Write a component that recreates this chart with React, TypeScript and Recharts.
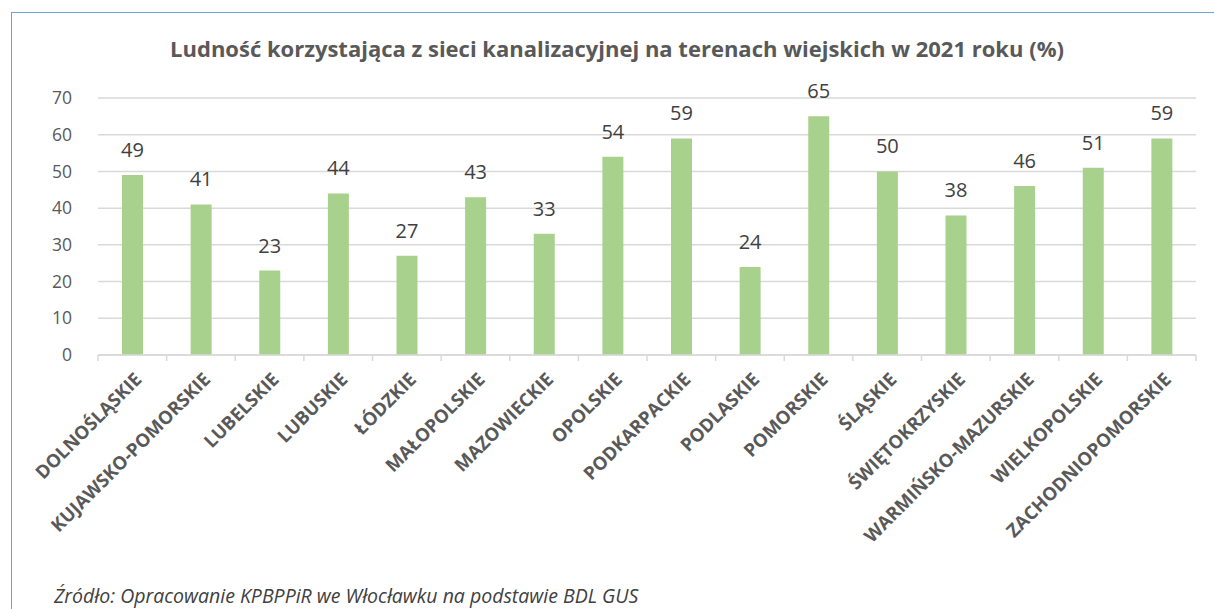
import React from 'react';
import { BarChart, Bar, XAxis, YAxis, CartesianGrid, LabelList } from 'recharts';

const regions = [
  'DOLNOŚLĄSKIE',
  'KUJAWSKO-POMORSKIE',
  'LUBELSKIE',
  'LUBUSKIE',
  'ŁÓDZKIE',
  'MAŁOPOLSKIE',
  'MAZOWIECKIE',
  'OPOLSKIE',
  'PODKARPACKIE',
  'PODLASKIE',
  'POMORSKIE',
  'ŚLĄSKIE',
  'ŚWIĘTOKRZYSKIE',
  'WARMIŃSKO-MAZURSKIE',
  'WIELKOPOLSKIE',
  'ZACHODNIOPOMORSKIE',
];
const values = [49, 41, 23, 44, 27, 43, 33, 54, 59, 24, 65, 50, 38, 46, 51, 59];
const yTicks = [0, 10, 20, 30, 40, 50, 60, 70];

const data = regions.map((name, i) => ({ name, value: values[i] }));

const FONT = '"Open Sans", Lato, sans-serif';
const W = 1214;
const H = 609;
const PLOT_LEFT = 98;
const PLOT_RIGHT = 18;
const PLOT_TOP = 98;
const PLOT_BOTTOM_Y = 355;
const STEP = (W - PLOT_LEFT - PLOT_RIGHT) / regions.length;

const RegionTick = (props: any) => {
  const { x, y, payload, index } = props;
  return (
    <g>
      <line x1={x - STEP / 2} x2={x - STEP / 2} y1={y - 8} y2={y - 2} stroke="#d9d9d9" strokeWidth={1.5} />
      {index === regions.length - 1 && (
        <line x1={x + STEP / 2} x2={x + STEP / 2} y1={y - 8} y2={y - 2} stroke="#d9d9d9" strokeWidth={1.5} />
      )}
      <text
        transform={`translate(${x + 6},${y + 13}) rotate(-45)`}
        textAnchor="end"
        fontSize={18.5}
        fontWeight={700}
        fill="#595959"
        fontFamily={FONT}
        dy="0.35em"
      >
        {payload.value}
      </text>
    </g>
  );
};

export default function App() {
  return (
    <div style={{ position: 'absolute', left: 0, top: 0, width: W, height: H, background: '#fff', overflow: 'hidden' }}>
      <div style={{ position: 'absolute', left: 11, top: 12, width: W - 11, height: 1, background: '#6fa3d8' }} />
      <div style={{ position: 'absolute', left: 11, top: 12, width: 1, height: H - 12, background: '#6fa3d8' }} />
      <div
        style={{
          position: 'absolute',
          left: 0,
          top: 33,
          width: 1234,
          textAlign: 'center',
          fontFamily: FONT,
          fontWeight: 700,
          fontSize: 22,
          color: '#595959',
        }}
      >
        Ludność korzystająca z sieci kanalizacyjnej na terenach wiejskich w 2021 roku (%)
      </div>
      <div
        style={{
          position: 'absolute',
          left: 54,
          top: 582,
          fontFamily: FONT,
          fontStyle: 'italic',
          fontSize: 19.5,
          color: '#404040',
        }}
      >
        Źródło: Opracowanie KPBPPiR we Włocławku na podstawie BDL GUS
      </div>
      <div style={{ position: 'absolute', left: 0, top: 0 }}>
        <BarChart
          width={W}
          height={H}
          data={data}
          margin={{ top: PLOT_TOP, right: PLOT_RIGHT, left: 0, bottom: 0 }}
        >
          <CartesianGrid vertical={false} stroke="#d9d9d9" strokeWidth={1.5} />
          <XAxis
            dataKey="name"
            interval={0}
            height={H - PLOT_BOTTOM_Y}
            axisLine={{ stroke: '#d9d9d9', strokeWidth: 1.5 }}
            tickLine={false}
            tick={<RegionTick />}
          />
          <YAxis
            width={PLOT_LEFT}
            domain={[0, 70]}
            ticks={yTicks}
            axisLine={false}
            tickLine={false}
            tickMargin={20}
            tick={{ fontSize: 17.5, fill: '#595959', fontFamily: FONT }}
          />
          <Bar dataKey="value" fill="#a9d18e" barSize={21} isAnimationActive={false}>
            <LabelList
              dataKey="value"
              position="top"
              offset={18}
              style={{ fontSize: 20, fill: '#404040', fontFamily: FONT }}
            />
          </Bar>
        </BarChart>
      </div>
    </div>
  );
}
